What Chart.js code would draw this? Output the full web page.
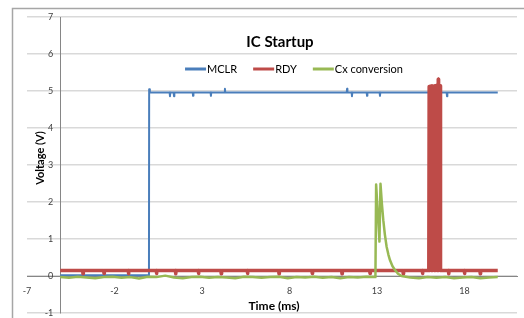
<!DOCTYPE html>
<html>
<head>
<meta charset="utf-8">
<script src="https://cdn.jsdelivr.net/npm/chart.js@4.4.0/dist/chart.umd.min.js"></script>
<style>
  html, body { margin: 0; padding: 0; background: #fff; }
  #wrap { width: 524px; height: 318px; }
</style>
</head>
<body>
<div id="wrap"><canvas id="chart"></canvas></div>
<script>
// Chart text
const chartTitle = "IC Startup";
const xTitle = "Time (ms)";
const yTitle = "Voltage (V)";
const seriesNames = ["MCLR", "RDY", "Cx conversion"];
const seriesColors = ["#4A7EBB", "#BE4B48", "#98B954"];

// Axis ticks
const xTicks = [-7, -2, 3, 8, 13, 18];
const yTicks = [-1, 0, 1, 2, 3, 4, 5, 6, 7];

// MCLR (blue)
const mclrX = [-5.1, -0.03, -0.02, 0.02, 1.15, 1.17, 1.19, 1.38, 1.40, 1.42, 2.47, 2.49, 2.51, 3.49, 3.51, 3.53,
  4.29, 4.31, 4.33, 11.27, 11.29, 11.31, 11.55, 11.57, 11.59, 12.41, 12.43, 12.45, 13.15, 13.17, 13.19,
  16.98, 17.00, 17.02, 19.9];
const mclrY = [0.02, 0.02, 5.05, 4.96, 4.96, 4.86, 4.96, 4.96, 4.86, 4.96, 4.96, 4.87, 4.96, 4.96, 4.87, 4.96,
  4.96, 5.06, 4.96, 4.96, 5.06, 4.96, 4.96, 4.86, 4.96, 4.96, 4.87, 4.96, 4.96, 4.87, 4.96,
  4.96, 4.86, 4.96, 4.96];

// RDY (red)
const rdyX = [-5.1,
  -3.82, -3.8, -3.78, -2.62, -2.6, -2.58, -1.22, -1.2, -1.18, 0.38, 0.4, 0.42, 1.48, 1.5, 1.52,
  2.78, 2.8, 2.82, 4.08, 4.1, 4.12, 5.58, 5.6, 5.62, 7.38, 7.4, 7.42, 9.28, 9.3, 9.32,
  10.98, 11.0, 11.02, 12.58, 12.6, 12.62, 14.48, 14.5, 14.52, 15.58, 15.6, 15.62,
  15.96, 15.98, 16.02, 16.06, 16.10, 16.14, 16.18, 16.22, 16.26, 16.30, 16.34, 16.38, 16.42,
  16.46, 16.48, 16.50, 16.52, 16.56, 16.60, 16.62, 16.64,
  17.08, 17.1, 17.12, 17.98, 18.0, 18.02, 18.88, 18.9, 18.92,
  19.9];
const rdyY = [0.15,
  0.15, 0.06, 0.15, 0.15, 0.07, 0.15, 0.15, 0.06, 0.15, 0.15, 0.07, 0.15, 0.15, 0.06, 0.15,
  0.15, 0.07, 0.15, 0.15, 0.06, 0.15, 0.15, 0.07, 0.15, 0.15, 0.06, 0.15, 0.15, 0.07, 0.15,
  0.15, 0.06, 0.15, 0.15, 0.07, 0.15, 0.15, 0.06, 0.15, 0.15, 0.07, 0.15,
  0.15, 5.12, 0.15, 5.13, 0.15, 5.14, 0.15, 5.12, 0.15, 5.14, 0.15, 5.15, 0.15,
  5.16, 0.15, 5.32, 0.15, 5.15, 0.15, 5.14, 0.15,
  0.15, 0.06, 0.15, 0.15, 0.07, 0.15, 0.15, 0.06, 0.15,
  0.15];

// Cx conversion (green)
const cxX = [-5.1, -4.6, -4.1, -3.6, -3.1, -2.6, -2.1, -1.6, -1.1, -0.6, -0.1, 0.4, 0.9, 1.4, 1.9, 2.4, 2.9, 3.4,
  3.9, 4.4, 4.9, 5.4, 5.9, 6.4, 6.9, 7.4, 7.9, 8.4, 8.9, 9.4, 9.9, 10.4, 10.9, 11.4, 11.9, 12.4,
  12.91, 12.95, 13.14, 13.2, 13.28, 13.36, 13.45, 13.55, 13.65, 13.74, 13.88, 14.03, 14.2, 14.4,
  14.9, 15.4, 15.9, 16.4, 16.9, 17.4, 17.9, 18.4, 18.9, 19.4, 19.9];
const cxY = [-0.03, -0.05, -0.02, -0.04, -0.06, -0.03, -0.02, -0.05, -0.03, -0.07, -0.02, -0.03, 0.01, -0.04, -0.06, -0.03, -0.02, -0.05,
  -0.03, -0.04, -0.06, -0.02, -0.03, -0.05, -0.03, -0.02, -0.06, -0.03, -0.04, -0.02, -0.05, -0.03, -0.06, -0.03, -0.04, -0.02,
  -0.03, 2.47, 0.93, 2.49, 1.95, 1.51, 1.12, 0.79, 0.58, 0.43, 0.27, 0.16, 0.06, 0.0,
  -0.04, -0.06, -0.03, -0.05, -0.03, -0.06, -0.04, -0.03, -0.06, -0.04, -0.03];

function toPoints(xs, ys) {
  return xs.map((x, i) => ({ x: x, y: ys[i] }));
}

// frame, title, legend and axis titles drawn the Excel way (over the plot area)
const excelDecor = {
  id: "excelDecor",
  beforeDraw(chart) {
    const ctx = chart.ctx;
    ctx.save();
    ctx.fillStyle = "#fff";
    ctx.fillRect(0, 0, chart.width, chart.height);
    ctx.strokeStyle = "#a6a6a6";
    ctx.lineWidth = 1.5;
    ctx.strokeRect(12.5, 8.5, chart.width + 40, chart.height + 40);
    ctx.restore();
  },
  afterDraw(chart) {
    const ctx = chart.ctx;
    ctx.save();
    ctx.fillStyle = "#000";
    ctx.textBaseline = "middle";

    ctx.font = "bold 15px Lato";
    ctx.textAlign = "center";
    ctx.fillText(chartTitle, 280, 42);

    // legend
    ctx.font = "11px Lato";
    ctx.textAlign = "left";
    const lineLen = 21, gap = 16;
    let total = 0;
    seriesNames.forEach((n, i) => {
      total += lineLen + 1 + ctx.measureText(n).width + (i < seriesNames.length - 1 ? gap : 0);
    });
    let x = 294 - total / 2;
    seriesNames.forEach((n, i) => {
      ctx.strokeStyle = seriesColors[i];
      ctx.lineWidth = 3;
      ctx.beginPath();
      ctx.moveTo(x, 69);
      ctx.lineTo(x + lineLen, 69);
      ctx.stroke();
      ctx.fillText(n, x + lineLen + 1, 69);
      x += lineLen + 1 + ctx.measureText(n).width + gap;
    });

    // axis titles
    ctx.textAlign = "center";
    ctx.font = "bold 11px Lato";
    ctx.save();
    ctx.translate(40, 158);
    ctx.rotate(-Math.PI / 2);
    ctx.fillText(yTitle, 0, 0);
    ctx.restore();
    ctx.font = "bold 12px Lato";
    ctx.fillText(xTitle, 274, 306);
    ctx.restore();
  }
};

const ctx = document.getElementById("chart").getContext("2d");
new Chart(ctx, {
  type: "line",
  data: {
    datasets: [
      {
        label: seriesNames[0],
        data: toPoints(mclrX, mclrY),
        borderColor: seriesColors[0],
        borderWidth: 2,
        order: 3,
      },
      {
        label: seriesNames[1],
        data: toPoints(rdyX, rdyY),
        borderColor: seriesColors[1],
        borderWidth: 3.5,
        order: 2,
      },
      {
        label: seriesNames[2],
        data: toPoints(cxX, cxY),
        borderColor: seriesColors[2],
        borderWidth: 2.5,
        order: 1,
      },
    ],
  },
  options: {
    responsive: true,
    maintainAspectRatio: false,
    animation: false,
    layout: { padding: { left: 27, right: 7, top: 17, bottom: 5 } },
    elements: {
      point: { radius: 0 },
      line: { tension: 0, borderJoinStyle: "round", fill: false },
    },
    plugins: {
      legend: { display: false },
      title: { display: false },
      tooltip: { enabled: false },
    },
    scales: {
      x: {
        type: "linear",
        min: -7,
        max: 21,
        position: { y: 0 },
        afterBuildTicks: (scale) => {
          scale.ticks = xTicks.map((v) => ({ value: v }));
        },
        grid: { display: false, drawTicks: false },
        border: { display: true, color: "#868686", width: 1 },
        ticks: {
          padding: 10,
          maxRotation: 0,
          font: { family: "Lato", size: 9 },
          color: "#404040",
        },
      },
      y: {
        type: "linear",
        min: -1,
        max: 7,
        position: { x: -5.1 },
        afterBuildTicks: (scale) => {
          scale.ticks = yTicks.map((v) => ({ value: v }));
        },
        grid: { color: "#d9d9d9", lineWidth: 1.5, drawTicks: false },
        border: { display: true, color: "#868686", width: 1 },
        ticks: {
          padding: 0,
          callback: (v) => v + "   ",
          font: { family: "Lato", size: 9, lineHeight: 1 },
          color: "#404040",
        },
      },
    },
  },
  plugins: [excelDecor],
});
</script>
</body>
</html>
